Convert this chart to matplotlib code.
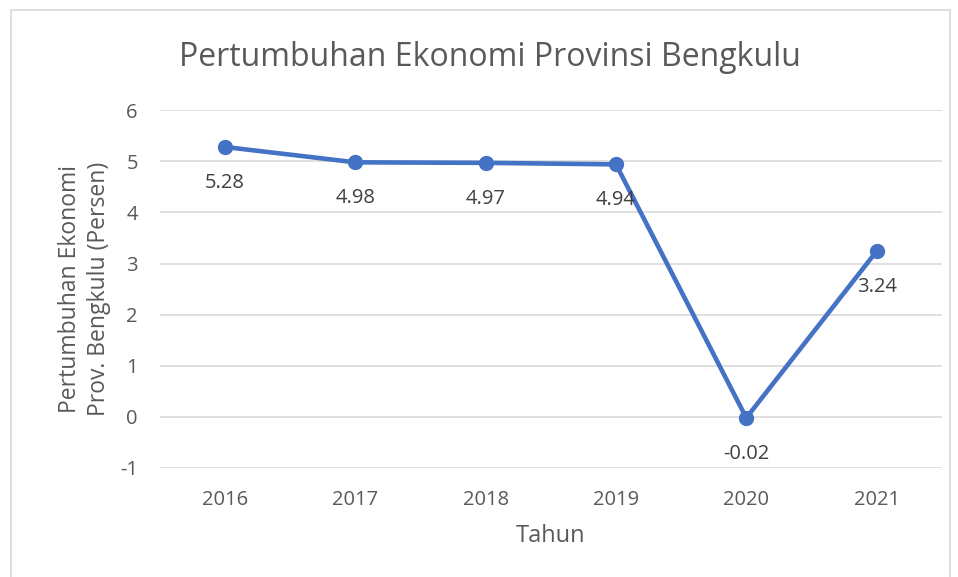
import matplotlib.pyplot as plt
from matplotlib.patches import Rectangle

years = ["2016", "2017", "2018", "2019", "2020", "2021"]
growth = [5.28, 4.98, 4.97, 4.94, -0.02, 3.24]
yticks = [-1, 0, 1, 2, 3, 4, 5, 6]

plt.rcParams['font.family'] = ['Open Sans', 'DejaVu Sans']
txt = '#595959'

fig = plt.figure(figsize=(9.58, 5.77), dpi=100)
ax = fig.add_axes([0.167, 0.189, 0.816, 0.620])

# border around the chart area
fig.patches.append(Rectangle((11 / 958, -0.01), 939 / 958, 1 - 10 / 577 + 0.01,
                             transform=fig.transFigure, fill=False,
                             edgecolor='#d9d9d9', lw=1.2))

x = list(range(len(years)))
ax.plot(x, growth, color='#4472C4', lw=3.3, marker='o', markersize=10,
        solid_capstyle='round', zorder=3)
for xi, v in zip(x, growth):
    ax.annotate(f"{v:.2f}", (xi, v), xytext=(0, -26), textcoords='offset points',
                ha='center', va='center', fontsize=14.5, color='#404040')

ax.set_xlim(-0.5, 5.5)
ax.set_ylim(-1, 6)
ax.set_yticks(yticks)
ax.set_yticklabels([str(t) for t in yticks])
ax.set_xticks(x)
ax.set_xticklabels(years)
ax.grid(axis='y', color='#d9d9d9', lw=1.2)
ax.set_axisbelow(True)
for s in ax.spines.values():
    s.set_visible(False)
ax.tick_params(length=0, labelsize=14.5, labelcolor=txt)
ax.tick_params(axis='y', pad=16)
ax.tick_params(axis='x', pad=16)

fig.text(490 / 958, 1 - 57 / 577, "Pertumbuhan Ekonomi Provinsi Bengkulu",
         fontsize=23, color=txt, ha='center', va='center')
ax.set_xlabel("Tahun", fontsize=17, color=txt, labelpad=10)
ax.set_ylabel("Pertumbuhan Ekonomi\nProv. Bengkulu (Persen)", fontsize=16.5,
              color=txt, labelpad=6, linespacing=1.3)

fig.savefig('out.png', dpi=100)
